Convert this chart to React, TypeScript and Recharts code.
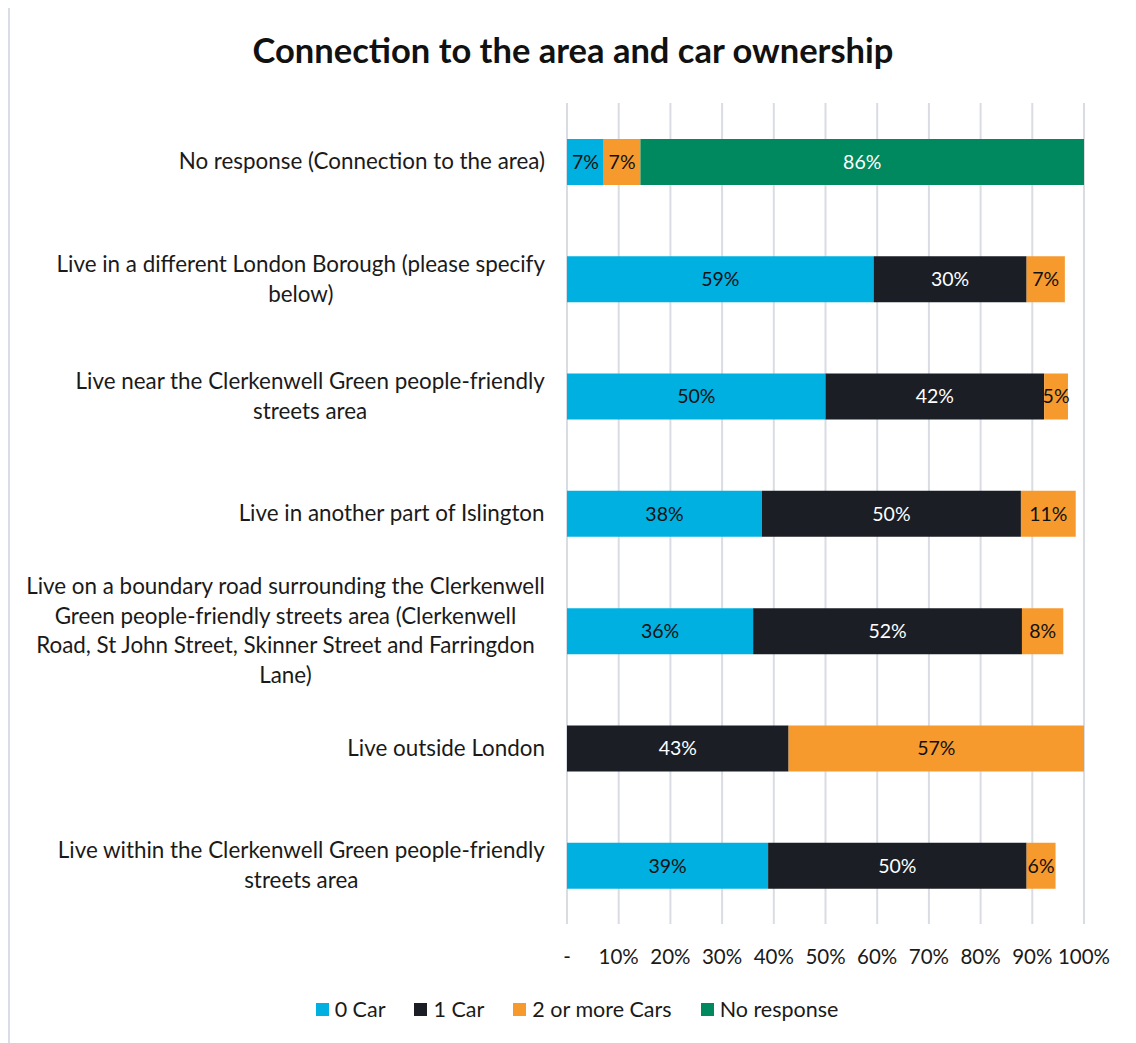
import React from "react";
import { BarChart, Bar, XAxis, YAxis, CartesianGrid, Legend, LabelList } from "recharts";

const categories = [
  "No response (Connection to the area)",
  "Live in a different London Borough (please specify\nbelow)",
  "Live near the Clerkenwell Green people-friendly\nstreets area",
  "Live in another part of Islington",
  "Live on a boundary road surrounding the Clerkenwell\nGreen people-friendly streets area (Clerkenwell\nRoad, St John Street, Skinner Street and Farringdon\nLane)",
  "Live outside London",
  "Live within the Clerkenwell Green people-friendly\nstreets area",
];
const car0 = [7.1, 59.3, 50, 37.7, 36, 0, 38.9];
const car1 = [0, 29.6, 42.3, 50.1, 52, 42.86, 50];
const car2 = [7.1, 7.4, 4.6, 10.6, 8, 57.14, 5.6];
const noResp = [85.8, 0, 0, 0, 0, 0, 0];
const xTicks = [0, 10, 20, 30, 40, 50, 60, 70, 80, 90, 100];

const seriesNames = ["0 Car", "1 Car", "2 or more Cars", "No response"];
const seriesKeys = ["c0", "c1", "c2", "nr"];
const seriesColors = ["#00b0e0", "#1b1e25", "#f79a2e", "#00895e"];
const labelColors = ["#111111", "#ffffff", "#111111", "#ffffff"];

const data = categories.map((c, i) => ({
  name: c,
  c0: car0[i],
  c1: car1[i],
  c2: car2[i],
  nr: noResp[i],
}));

const FONT = "Lato, 'Open Sans', sans-serif";
const CAT_SIZE = 22.4;
let canvasCtx: CanvasRenderingContext2D | null = null;
function measure(text: string, font: string) {
  if (!canvasCtx) {
    const c = document.createElement("canvas");
    canvasCtx = c.getContext("2d");
  }
  if (!canvasCtx) return text.length * 10.5;
  canvasCtx.font = font;
  return canvasCtx.measureText(text).width;
}

const CategoryTick = (props: any) => {
  const { x, y, payload } = props;
  const lines = String(payload.value).split("\n");
  const widths = lines.map((l) => measure(l, `${CAT_SIZE}px ${FONT}`));
  const blockW = Math.max(...widths);
  const cx = x - blockW / 2;
  const lh = 29.5;
  const startY = y - ((lines.length - 1) * lh) / 2;
  return (
    <g>
      {lines.map((l, i) => (
        <text
          key={i}
          x={cx}
          y={startY + i * lh}
          dy="0.35em"
          textAnchor="middle"
          fontSize={CAT_SIZE}
          fontFamily={FONT}
          fill="#1a1a1a"
        >
          {l}
        </text>
      ))}
    </g>
  );
};

const makeLabel = (idx: number) => (props: any) => {
  const { x, y, width, height, value } = props;
  const v = Number(value);
  const text = v === 0 ? "-" : `${Math.round(v)}%`;
  return (
    <text
      x={Number(x) + Number(width) / 2}
      y={Number(y) + Number(height) / 2}
      dy="0.35em"
      textAnchor="middle"
      fontSize={19.5}
      fontFamily={FONT}
      fill={labelColors[idx]}
    >
      {text}
    </text>
  );
};

const LegendContent = () => (
  <div
    style={{
      display: "flex",
      justifyContent: "center",
      alignItems: "center",
      gap: 29,
      height: 30,
      fontFamily: FONT,
      fontSize: 21.5,
      color: "#1a1a1a",
      paddingLeft: 8,
    }}
  >
    {seriesNames.map((n, i) => (
      <div key={n} style={{ display: "flex", alignItems: "center" }}>
        <span
          style={{
            display: "inline-block",
            width: 13,
            height: 13,
            background: seriesColors[i],
            marginRight: 6,
          }}
        />
        <span>{n}</span>
      </div>
    ))}
  </div>
);

export default function App() {
  return (
    <div
      style={{
        position: "relative",
        width: 1140,
        height: 1050,
        borderLeft: "2px solid #d9dde6",
        borderTop: "2px solid #d9dde6",
        marginTop: -3,
        background: "#fff",
      }}
    >
      <div
        style={{
          position: "absolute",
          left: 0,
          top: 25,
          width: 1126,
          textAlign: "center",
          fontFamily: FONT,
          fontWeight: 700,
          fontSize: 34.5,
          lineHeight: "36px",
          color: "#111",
        }}
      >
        Connection to the area and car ownership
      </div>
      <BarChart
        width={1126}
        height={1036}
        data={data}
        layout="vertical"
        margin={{ top: 96, right: 52, bottom: 49, left: 0 }}
        barSize={46}
      >
        <CartesianGrid horizontal={false} vertical={true} stroke="#d9dce3" strokeWidth={2} />
        <XAxis
          type="number"
          domain={[0, 100]}
          ticks={xTicks}
          interval={0}
          axisLine={false}
          tickLine={false}
          tickSize={0}
          tickMargin={25}
          height={40}
          tickFormatter={(v: number) => (v === 0 ? "-" : `${v}%`)}
          tick={{ fontSize: 20.5, fontFamily: FONT, fill: "#1a1a1a" }}
        />
        <YAxis
          type="category"
          dataKey="name"
          width={557}
          axisLine={false}
          tickLine={false}
          tickSize={0}
          tickMargin={22}
          interval={0}
          tick={<CategoryTick />}
        />
        <Legend
          content={<LegendContent />}
          wrapperStyle={{ position: "absolute", top: 987, left: 0, width: 1126 }}
        />
        {seriesKeys.map((k, i) => (
          <Bar
            key={k}
            dataKey={k}
            name={seriesNames[i]}
            stackId="a"
            fill={seriesColors[i]}
            isAnimationActive={false}
          >
            <LabelList dataKey={k} content={makeLabel(i)} />
          </Bar>
        ))}
      </BarChart>
    </div>
  );
}
